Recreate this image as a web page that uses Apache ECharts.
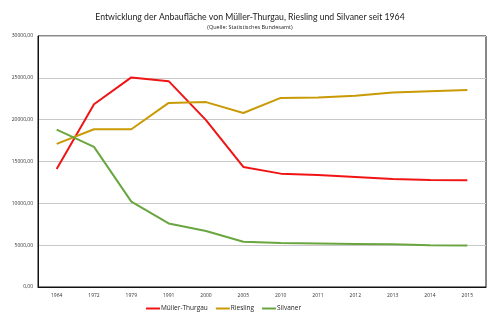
<!DOCTYPE html>
<html><head><meta charset="utf-8">
<script src="https://cdn.jsdelivr.net/npm/echarts@6/dist/echarts.min.js"></script>
<style>html,body{margin:0;padding:0;background:#fff}#c{width:500px;height:323px}</style>
</head><body><div id="c"></div>
<script>
const categories = ['1964','1972','1979','1991','2000','2005','2010','2011','2012','2013','2014','2015'];
const muellerThurgau = [14100,21850,25050,24600,19950,14350,13550,13400,13150,12900,12800,12750];
const riesling = [17100,18850,18850,22000,22100,20800,22600,22650,22850,23250,23400,23550];
const silvaner = [18800,16750,10200,7600,6700,5400,5250,5200,5150,5100,5000,4950];
const yTicks = {min:0, max:30000, interval:5000};

const chart = echarts.init(document.getElementById('c'), null, {renderer:'canvas'});
const font = 'Open Sans';
function mk(name, data, color){
  return {name, type:'line', data, symbol:'none', lineStyle:{color, width:2}, itemStyle:{color}};
}
chart.setOption({
  animation:false,
  title:{
    text:'Entwicklung der Anbaufläche von Müller-Thurgau, Riesling und Silvaner seit 1964',
    subtext:'(Quelle: Statistisches Bundesamt)',
    left:'center', top:8, itemGap:2,
    textStyle:{fontFamily:'Lato', fontSize:8.7, fontWeight:'normal', color:'#222'},
    subtextStyle:{fontFamily:font, fontSize:5.5, color:'#222'}
  },
  legend:{
    bottom:6, left:141, itemWidth:14, itemHeight:2, itemGap:8, icon:'rect',
    textStyle:{fontFamily:font, fontSize:6.5, color:'#222', padding:[0,0,0,-4]},
    data:['Müller-Thurgau','Riesling','Silvaner']
  },
  grid:{left:38, right:14, top:36, bottom:36, show:true, borderColor:'#111', borderWidth:1},
  xAxis:{
    type:'category', data:categories, boundaryGap:true,
    axisLine:{lineStyle:{color:'#111'}}, axisTick:{show:false},
    axisLabel:{fontFamily:font, fontSize:5, color:'#333', margin:6}
  },
  yAxis:{
    type:'value', min:yTicks.min, max:yTicks.max, interval:yTicks.interval,
    axisLine:{show:true, lineStyle:{color:'#111'}}, axisTick:{show:false},
    splitLine:{lineStyle:{color:'#c8c8c8', width:1}},
    axisLabel:{fontFamily:font, fontSize:5, color:'#333', margin:5,
      formatter:v=>v.toFixed(2).replace('.',',')}
  },
  series:[
    mk('Müller-Thurgau', muellerThurgau, '#f01414'),
    mk('Riesling', riesling, '#c99a06'),
    mk('Silvaner', silvaner, '#6aa640')
  ]
});
</script></body></html>
